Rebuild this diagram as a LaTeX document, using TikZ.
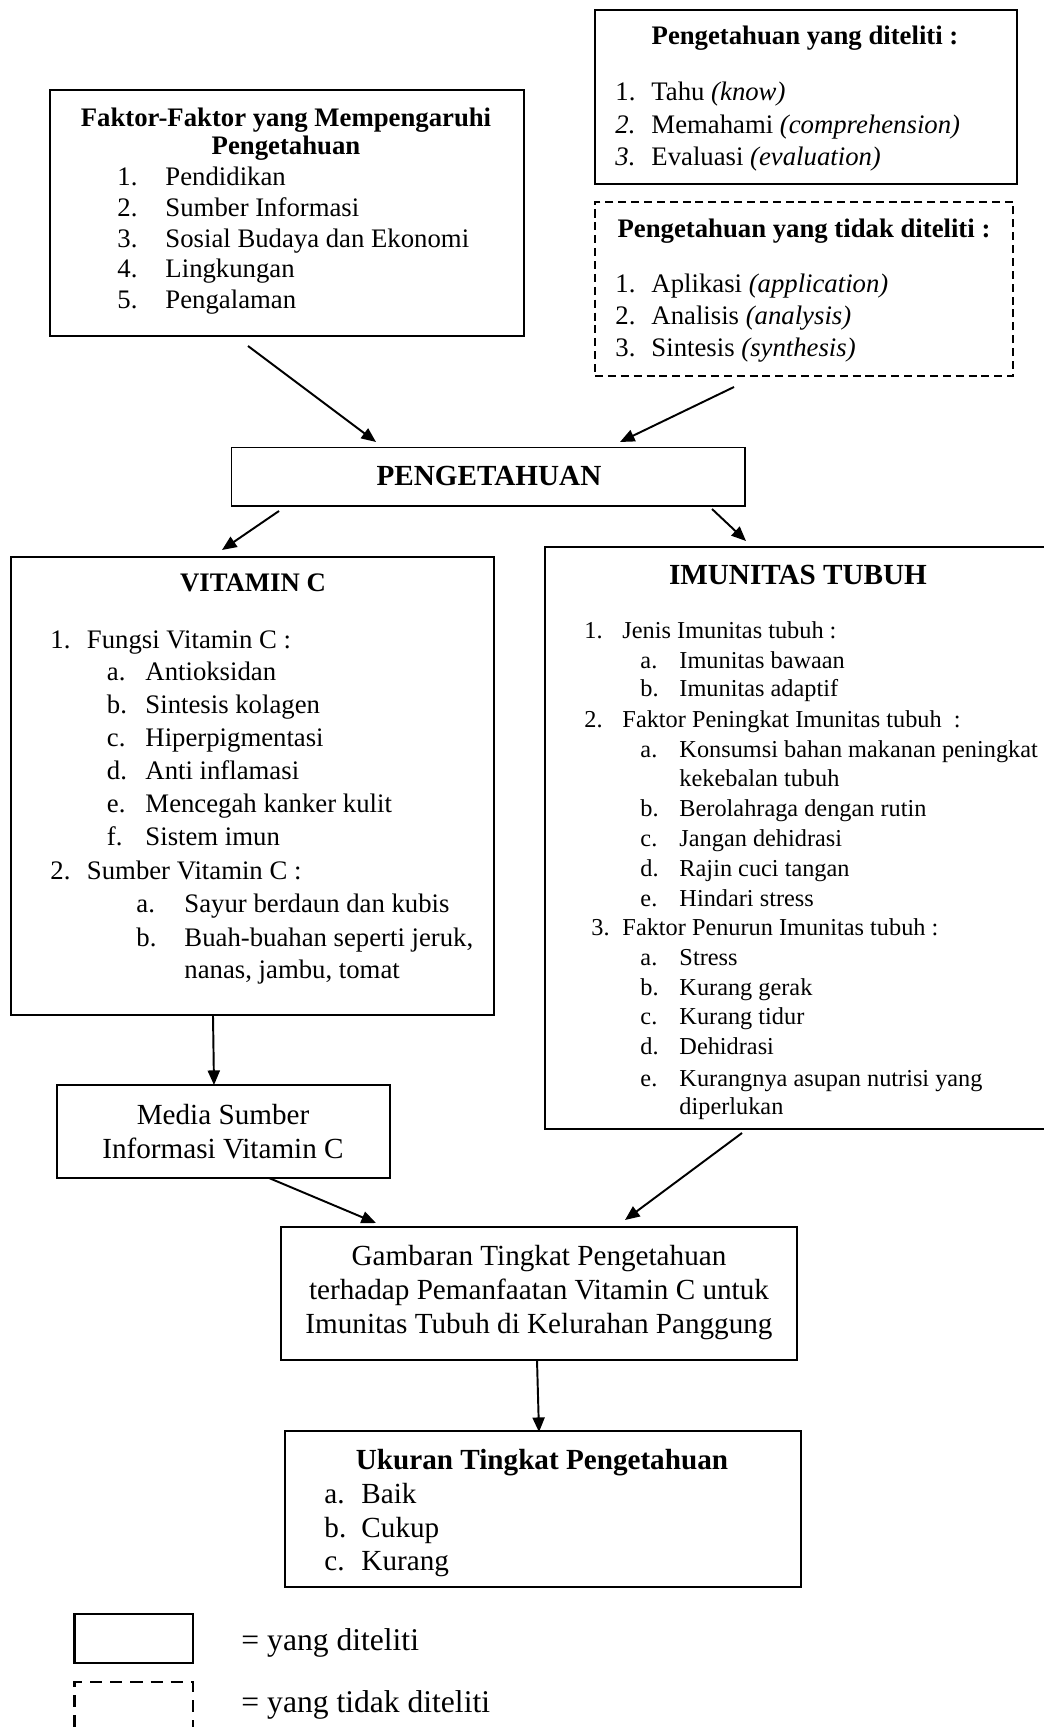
\documentclass[tikz,border=0pt]{standalone}
\usepackage{fontspec}
\setmainfont{Liberation Serif}
\usetikzlibrary{arrows.meta,calc,fit}
\begin{document}
\begin{tikzpicture}[x=0.4115pt, y=-0.4115pt,
  box/.style={draw, line width=0.6pt, inner sep=0pt, outer sep=0pt},
  dbox/.style={box, dash pattern=on 3.3pt off 2pt},
  arr/.style={-{Triangle[length=6pt,width=5pt]}, line width=0.8pt},
  tl/.style={anchor=base west, inner sep=0pt},
  tc/.style={anchor=base, inner sep=0pt},
  fa/.style={font=\fontsize{10}{12}\selectfont},
  fb/.style={font=\fontsize{11}{13}\selectfont},
  fc/.style={font=\fontsize{12}{14}\selectfont},
  fd/.style={font=\fontsize{13}{15}\selectfont},
  fbB/.style={font=\fontsize{11}{13}\selectfont\bfseries},
  fcB/.style={font=\fontsize{12}{14}\selectfont\bfseries}
]
\useasboundingbox (0,0) rectangle (1043,1727);

% ---------- boxes ----------
\node[box, fit={(50,90)(524,336)}] (faktor) {};
\node[box, fit={(595,10)(1017,184)}] (diteliti) {};
\node[dbox, fit={(595,202)(1013,376)}] (tdk) {};
\node[box, fit={(231.5,447.5)(745,506)}] (peng) {};
\node[box, fit={(11,557)(494,1015)}] (vitc) {};
\node[box, fit={(545,547)(1050,1129)}] (imun) {};
\node[box, fit={(57,1085)(390,1178)}] (media) {};
\node[box, fit={(281,1227)(797,1360)}] (gamb) {};
\node[box, fit={(285,1431)(801,1587)}] (ukur) {};
\node[box, line width=1pt, fit={(74.5,1614)(193,1663)}] (legA) {};
\draw[line width=1pt, dash pattern=on 5pt off 3.3pt] (74.5,1727) -- (74.5,1682) -- (193,1682) -- (193,1727);

% ---------- Faktor ----------
\node[tc, fbB] (fh1) at (286,127) {Faktor-Faktor yang Mempengaruhi};
\node[tc, fbB] (fh2) at (286,155) {Pengetahuan};
\node[tl, fb] (fn1) at (117,186) {1.};
\node[tl, fb] (ft1) at (165,186) {Pendidikan};
\node[tl, fb] (fn2) at (117,217) {2.};
\node[tl, fb] (ft2) at (165,217) {Sumber Informasi};
\node[tl, fb] (fn3) at (117,248) {3.};
\node[tl, fb] (ft3) at (165,248) {Sosial Budaya dan Ekonomi};
\node[tl, fb] (fn4) at (117,278) {4.};
\node[tl, fb] (ft4) at (165,278) {Lingkungan};
\node[tl, fb] (fn5) at (117,309) {5.};
\node[tl, fb] (ft5) at (165,309) {Pengalaman};

% ---------- Pengetahuan yang diteliti ----------
\node[tc, fbB] (dh) at (805,45) {Pengetahuan yang diteliti :};
\node[tl, fb] (dn1) at (615,101) {1.};
\node[tl, fb] (dt1) at (651,101) {Tahu \textit{(know)}};
\node[tl, fb] (dn2) at (615,134) {\textit{2.}};
\node[tl, fb] (dt2) at (651,134) {Memahami \textit{(comprehension)}};
\node[tl, fb] (dn3) at (615,166) {\textit{3.}};
\node[tl, fb] (dt3) at (651,166) {Evaluasi \textit{(evaluation)}};

% ---------- Pengetahuan yang tidak diteliti ----------
\node[tc, fbB] (th) at (804,238) {Pengetahuan yang tidak diteliti :};
\node[tl, fb] (tn1) at (615,293) {1.};
\node[tl, fb] (tt1) at (651,293) {Aplikasi \textit{(application)}};
\node[tl, fb] (tn2) at (615,325) {2.};
\node[tl, fb] (tt2) at (651,325) {Analisis \textit{(analysis)}};
\node[tl, fb] (tn3) at (615,357) {3.};
\node[tl, fb] (tt3) at (651,357) {Sintesis \textit{(synthesis)}};

% ---------- PENGETAHUAN ----------
\node[tc, fcB] (pt) at (489,486) {PENGETAHUAN};

% ---------- VITAMIN C ----------
\node[tc, fbB] (vh) at (253,592) {VITAMIN C};
\node[tl, fb] (vn1) at (50,648) {1.};
\node[tl, fb] (vt1) at (86.5,648) {Fungsi Vitamin C :};
\node[tl, fb] (va1) at (106.5,680) {a.};
\node[tl, fb] (vb1) at (145,680) {Antioksidan};
\node[tl, fb] (va2) at (106.5,713) {b.};
\node[tl, fb] (vb2) at (145,713) {Sintesis kolagen};
\node[tl, fb] (va3) at (106.5,746) {c.};
\node[tl, fb] (vb3) at (145,746) {Hiperpigmentasi};
\node[tl, fb] (va4) at (106.5,779) {d.};
\node[tl, fb] (vb4) at (145,779) {Anti inflamasi};
\node[tl, fb] (va5) at (106.5,812) {e.};
\node[tl, fb] (vb5) at (145,812) {Mencegah kanker kulit};
\node[tl, fb] (va6) at (106.5,845) {f.};
\node[tl, fb] (vb6) at (145,845) {Sistem imun};
\node[tl, fb] (vn2) at (50,879) {2.};
\node[tl, fb] (vt2) at (86.5,879) {Sumber Vitamin C :};
\node[tl, fb] (vc1) at (136,912.5) {a.};
\node[tl, fb] (vd1) at (184,912.5) {Sayur berdaun dan kubis};
\node[tl, fb] (vc2) at (136,946) {b.};
\node[tl, fb] (vd2) at (184,946) {Buah-buahan seperti jeruk,};
\node[tl, fb] (vd3) at (184,978) {nanas, jambu, tomat};

% ---------- IMUNITAS TUBUH ----------
\node[tc, fcB] (ih) at (798,584) {IMUNITAS TUBUH};
\node[tl, fa] (in1) at (584,638) {1.};
\node[tl, fa] (it1) at (622,638) {Jenis Imunitas tubuh :};
\node[tl, fa] (ia1) at (640,668) {a.};
\node[tl, fa] (ib1) at (679,668) {Imunitas bawaan};
\node[tl, fa] (ia2) at (640,696.5) {b.};
\node[tl, fa] (ib2) at (679,696.5) {Imunitas adaptif};
\node[tl, fa] (in2) at (584,727) {2.};
\node[tl, fa] (it2) at (622,727) {Faktor Peningkat Imunitas tubuh\ \ :};
\node[tl, fa] (ia3) at (640,757) {a.};
\node[tl, fa] (ib3) at (679,757) {Konsumsi bahan makanan peningkat};
\node[tl, fa] (ib3b) at (679,786) {kekebalan tubuh};
\node[tl, fa] (ia4) at (640,816) {b.};
\node[tl, fa] (ib4) at (679,816) {Berolahraga dengan rutin};
\node[tl, fa] (ia5) at (640,846) {c.};
\node[tl, fa] (ib5) at (679,846) {Jangan dehidrasi};
\node[tl, fa] (ia6) at (640,876) {d.};
\node[tl, fa] (ib6) at (679,876) {Rajin cuci tangan};
\node[tl, fa] (ia7) at (640,906) {e.};
\node[tl, fa] (ib7) at (679,906) {Hindari stress};
\node[tl, fa] (in3) at (591,935) {3.};
\node[tl, fa] (it3) at (622,935) {Faktor Penurun Imunitas tubuh :};
\node[tl, fa] (ia8) at (640,965) {a.};
\node[tl, fa] (ib8) at (679,965) {Stress};
\node[tl, fa] (ia9) at (640,995) {b.};
\node[tl, fa] (ib9) at (679,995) {Kurang gerak};
\node[tl, fa] (ia10) at (640,1024) {c.};
\node[tl, fa] (ib10) at (679,1024) {Kurang tidur};
\node[tl, fa] (ia11) at (640,1054) {d.};
\node[tl, fa] (ib11) at (679,1054) {Dehidrasi};
\node[tl, fa] (ia12) at (640,1086) {e.};
\node[tl, fa] (ib12) at (679,1086) {Kurangnya asupan nutrisi yang};
\node[tl, fa] (ib12b) at (679,1114) {diperlukan};

% ---------- Media ----------
\node[tc, fc] (m1) at (223,1124) {Media Sumber};
\node[tc, fc] (m2) at (223,1158) {Informasi Vitamin C};

% ---------- Gambaran ----------
\node[tc, fc] (g1) at (539,1265) {Gambaran Tingkat Pengetahuan};
\node[tc, fc] (g2) at (539,1299) {terhadap Pemanfaatan Vitamin C untuk};
\node[tc, fc] (g3) at (539,1333) {Imunitas Tubuh di Kelurahan Panggung};

% ---------- Ukuran ----------
\node[tc, fcB] (uh) at (542,1469) {Ukuran Tingkat Pengetahuan};
\node[tl, fc] (ua1) at (324,1503) {a.};
\node[tl, fc] (ub1) at (361,1503) {Baik};
\node[tl, fc] (ua2) at (324,1537) {b.};
\node[tl, fc] (ub2) at (361,1537) {Cukup};
\node[tl, fc] (ua3) at (324,1570) {c.};
\node[tl, fc] (ub3) at (361,1570) {Kurang};

% ---------- Legend ----------
\node[tl, fd] (l1) at (241,1650) {= yang diteliti};
\node[tl, fd] (l2) at (241,1712) {= yang tidak diteliti};

% ---------- connectors ----------
\coordinate (a1s) at ($(faktor.south west)+(198,10)$);
\coordinate (a1e) at ($(peng.north west)+(144.5,-5.5)$);
\coordinate (a2s) at ($(tdk.south west)+(139,11)$);
\coordinate (a2e) at ($(peng.north west)+(388.5,-5.5)$);
\coordinate (a3s) at ($(peng.south west)+(47.5,5)$);
\coordinate (a3e) at ($(vitc.north west)+(211,-7)$);
\coordinate (a4s) at ($(peng.south west)+(480.5,3)$);
\coordinate (a4e) at ($(imun.north west)+(201,-6)$);
\coordinate (a5s) at ($(vitc.south west)+(202,1)$);
\coordinate (a5e) at ($(media.north west)+(157,0)$);
\coordinate (a6s) at ($(media.south west)+(212,0)$);
\coordinate (a6e) at ($(gamb.north west)+(95,-4)$);
\coordinate (a7s) at ($(imun.south west)+(197,4)$);
\coordinate (a7e) at ($(gamb.north west)+(344,-7)$);
\coordinate (a8s) at ($(gamb.south west)+(256,0)$);
\coordinate (a8e) at ($(ukur.north west)+(254,1)$);
\draw[arr] (a1s) -- (a1e);
\draw[arr] (a2s) -- (a2e);
\draw[arr] (a3s) -- (a3e);
\draw[arr] (a4s) -- (a4e);
\draw[arr] (a5s) -- (a5e);
\draw[arr] (a6s) -- (a6e);
\draw[arr] (a7s) -- (a7e);
\draw[arr] (a8s) -- (a8e);
\end{tikzpicture}
\end{document}
